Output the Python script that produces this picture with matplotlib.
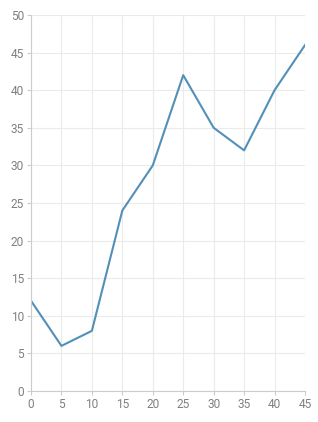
import matplotlib
matplotlib.use("Agg")
import matplotlib.pyplot as plt

x_values = [0, 5, 10, 15, 20, 25, 30, 35, 40, 45]
y_values = [12, 6, 8, 24, 30, 42, 35, 32, 40, 46]
x_ticks = [0, 5, 10, 15, 20, 25, 30, 35, 40, 45]
y_ticks = [0, 5, 10, 15, 20, 25, 30, 35, 40, 45, 50]

plt.rcParams['font.family'] = ['Roboto', 'DejaVu Sans']
fig = plt.figure(figsize=(3.18, 4.22), dpi=100)
ax = fig.add_axes([31/318, 1-391/422, (305-31)/318, (391-15)/422])
ax.plot(x_values, y_values, color='#5290b8', linewidth=1.5)
ax.set_xlim(0, 45)
ax.set_ylim(0, 50)
ax.set_xticks(x_ticks)
ax.set_yticks(y_ticks)
ax.grid(True, color='#ebebeb', linewidth=0.8)
ax.set_axisbelow(True)
for s in ['top', 'right']:
    ax.spines[s].set_visible(False)
for s in ['left', 'bottom']:
    ax.spines[s].set_color('#cccccc')
    ax.spines[s].set_linewidth(0.8)
ax.tick_params(axis='both', colors='#cccccc', labelcolor='#808080', labelsize=8.6, length=3, width=0.8, pad=2)
fig.savefig('out.png', dpi=100, facecolor='white')
